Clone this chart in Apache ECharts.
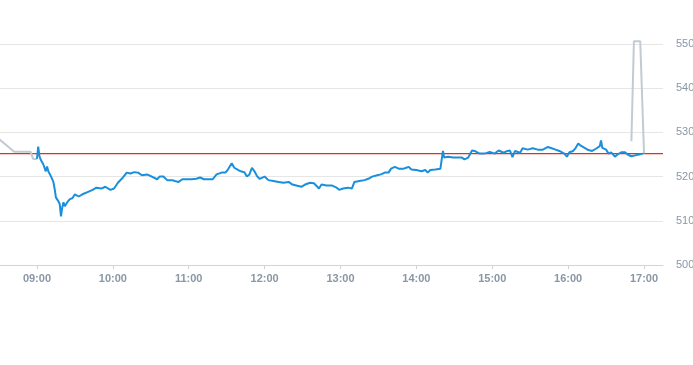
<!DOCTYPE html>
<html>
<head>
<meta charset="utf-8">
<script src="https://cdn.jsdelivr.net/npm/echarts@6/dist/echarts.min.js"></script>
<style>html,body{margin:0;padding:0;background:#fff;}#c{width:693px;height:365px;}</style>
</head>
<body>
<div id="c"></div>
<script>
var tickLabels = ['09:00','10:00','11:00','12:00','13:00','14:00','15:00','16:00','17:00'];
var yTicks = [500, 510, 520, 530, 540, 550];
var prevClose = 525.2;
var axisRange = ['08:30', '17:15'];

var preTimes = ['08:30','08:42','08:55','08:57','09:00'];
var preValues = [528.5, 525.6, 525.6, 524.0, 524.0];

var postTimes = ['16:50','16:52','16:57','17:00'];
var postValues = [528.0, 550.6, 550.6, 525.3];

var mainTimes = [
'09:00','09:01','09:02','09:03','09:05','09:07','09:08','09:09','09:11','09:13',
'09:14','09:15','09:17','09:18','09:19','09:20','09:21','09:22','09:24','09:26',
'09:27','09:28','09:30','09:33','09:36','09:40','09:44','09:47','09:51','09:54',
'09:58','10:01','10:04','10:08','10:11','10:14','10:17','10:20','10:23','10:27',
'10:30','10:35','10:37','10:40','10:43','10:47','10:49','10:52','10:55','10:59',
'11:02','11:06','11:09','11:12','11:16','11:19','11:22','11:26','11:29','11:31',
'11:34','11:36','11:39','11:41','11:44','11:46','11:48','11:50','11:52','11:54',
'11:56','12:00','12:03','12:07','12:11','12:15','12:19','12:20','12:22','12:25',
'12:29','12:32','12:36','12:39','12:43','12:45','12:49','12:53','12:57','12:59',
'13:02','13:06','13:09','13:11','13:15','13:19','13:22','13:25','13:29','13:32',
'13:35','13:38','13:40','13:43','13:46','13:50','13:52','13:54','13:56','14:00',
'14:04','14:07','14:09','14:11','14:15','14:19','14:20','14:21','14:22','14:25',
'14:29','14:32','14:36','14:38','14:41','14:44','14:46','14:50','14:54','14:58',
'15:02','15:05','15:09','15:12','15:14','15:16','15:18','15:22','15:24','15:28',
'15:32','15:36','15:40','15:44','15:47','15:50','15:53','15:57','15:59','16:01',
'16:04','16:06','16:08','16:10','16:13','16:16','16:19','16:22','16:25','16:26',
'16:27','16:30','16:32','16:34','16:37','16:39','16:42','16:45','16:47','16:50',
'16:53','16:56','16:59'
];
var mainValues = [
524.0,526.8,524.6,523.8,522.8,521.2,522.3,521.2,520.1,518.8,
517.2,515.3,514.4,513.8,511.0,513.0,514.2,513.3,514.2,514.9,
514.5,515.1,516.0,515.5,516.0,516.5,517.0,517.5,517.3,517.7,
517.0,517.3,518.6,519.8,520.9,520.7,521.0,520.9,520.3,520.5,
520.1,519.4,520.0,520.0,519.2,519.2,519.0,518.8,519.4,519.4,
519.4,519.5,519.8,519.4,519.4,519.4,520.5,520.9,520.9,521.6,
523.0,522.0,521.5,521.2,521.0,520.0,520.5,522.0,521.2,520.1,
519.5,520.0,519.2,519.0,518.8,518.6,518.8,519.0,518.2,518.0,
517.7,518.2,518.6,518.5,517.3,518.2,518.0,518.0,517.5,517.0,
517.3,517.5,517.3,518.8,519.0,519.2,519.5,520.0,520.3,520.5,
520.9,520.9,521.8,522.2,521.8,521.8,522.0,522.2,521.6,521.5,
521.2,521.5,520.9,521.5,521.6,521.8,522.2,525.8,524.3,524.5,
524.3,524.3,524.3,523.9,524.3,525.9,525.8,525.2,525.2,525.6,
525.2,525.9,525.4,525.8,525.9,524.4,525.8,525.4,526.4,526.1,
526.4,526.1,526.1,526.7,526.4,526.1,525.8,525.2,524.5,525.5,
525.8,526.5,527.5,527.0,526.5,526.0,525.8,526.3,526.9,528.2,
526.5,526.1,525.2,525.5,524.5,525.0,525.5,525.5,525.0,524.6,
524.8,525.0,525.2
];

function toMin(s){ var p = s.split(':'); return (+p[0]) * 60 + (+p[1]); }
function pad(n){ return (n < 10 ? '0' : '') + n; }
function fmt(m){ return pad(Math.floor(m / 60)) + ':' + pad(m % 60); }
function pairs(ts, vs){ return ts.map(function(t, i){ return [toMin(t), vs[i]]; }); }

var tickMins = tickLabels.map(toMin);
var xMin = toMin(axisRange[0]), xMax = toMin(axisRange[1]);
var labelColor = '#8a97a6';
var font = 'Liberation Sans, Arial, sans-serif';

var chart = echarts.init(document.getElementById('c'), null, {renderer: 'canvas'});
chart.setOption({
  animation: false,
  backgroundColor: '#ffffff',
  grid: {left: -1, right: 30, top: 44, bottom: 100, containLabel: false, outerBoundsMode: 'none'},
  xAxis: {
    type: 'value',
    min: xMin,
    max: xMax,
    splitLine: {show: false},
    axisLine: {show: true, lineStyle: {color: '#ccd4dd', width: 1}},
    axisTick: {show: true, customValues: tickMins, length: 4, lineStyle: {color: '#ccd4dd'}},
    axisLabel: {
      customValues: tickMins,
      formatter: function(v){ return fmt(Math.round(v)); },
      color: labelColor, fontSize: 11, fontWeight: 'bold', margin: 8, fontFamily: font
    }
  },
  yAxis: {
    type: 'value',
    position: 'right',
    min: yTicks[0],
    max: yTicks[yTicks.length - 1],
    interval: 10,
    axisLine: {show: false},
    axisTick: {show: false},
    splitLine: {show: true, lineStyle: {color: '#e6e6e6', width: 1}},
    axisLabel: {color: labelColor, fontSize: 11, margin: 13, fontFamily: font}
  },
  series: [
    {
      type: 'line', data: [[xMin, prevClose], [xMax, prevClose]], showSymbol: false, silent: true,
      lineStyle: {color: '#f0281e', width: 1.2, opacity: 1}, itemStyle: {color: '#f0281e'}, z: 1
    },
    {
      type: 'line', data: pairs(preTimes, preValues), showSymbol: false, clip: false,
      lineStyle: {color: '#c2cbd3', width: 2}, itemStyle: {color: '#c2cbd3'}, z: 2
    },
    {
      type: 'line', data: pairs(postTimes, postValues), showSymbol: false, clip: false,
      lineStyle: {color: '#c2cbd3', width: 2}, itemStyle: {color: '#c2cbd3'}, z: 2
    },
    {
      type: 'line', data: pairs(mainTimes, mainValues), showSymbol: false,
      lineStyle: {color: '#1a8fdc', width: 2}, itemStyle: {color: '#1a8fdc'}, z: 3
    }
  ]
});
</script>
</body>
</html>
